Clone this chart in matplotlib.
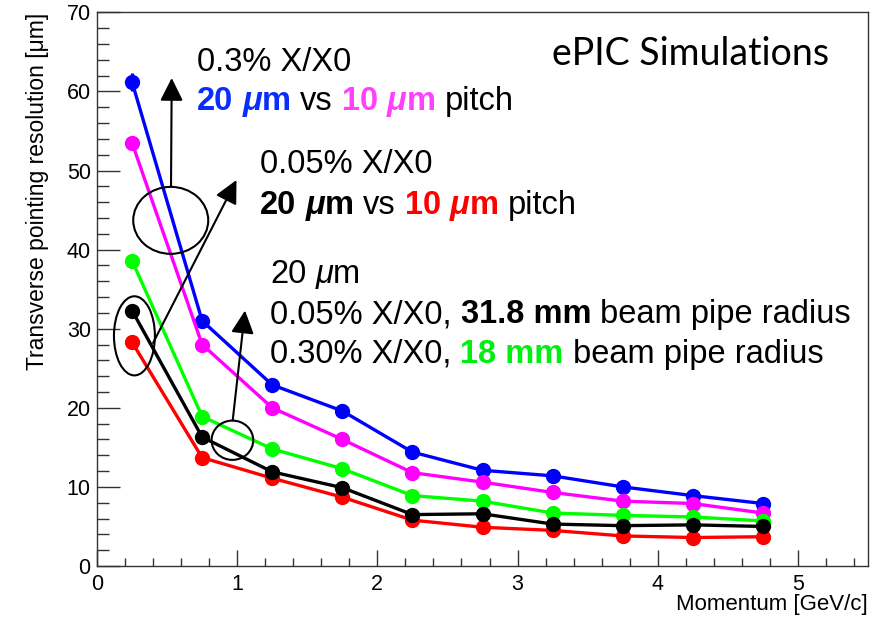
import matplotlib
matplotlib.use("Agg")
import matplotlib.pyplot as plt
from matplotlib.patches import Ellipse
from matplotlib.ticker import MultipleLocator

plt.rcParams["font.family"] = ["Liberation Sans", "DejaVu Sans"]

# momentum bins [GeV/c]
momentum = [0.25, 0.75, 1.25, 1.75, 2.25, 2.75, 3.25, 3.75, 4.25, 4.75]

# transverse pointing resolution [um]
res_blue = [61.2, 31.0, 22.9, 19.6, 14.4, 12.1, 11.4, 10.0, 8.9, 7.9]
res_magenta = [53.5, 28.0, 20.0, 16.0, 11.8, 10.6, 9.3, 8.2, 7.9, 6.7]
res_green = [38.6, 18.9, 14.8, 12.3, 8.9, 8.2, 6.7, 6.4, 6.2, 5.7]
res_red = [28.3, 13.7, 11.1, 8.7, 5.8, 4.9, 4.5, 3.8, 3.6, 3.7]
res_black = [32.3, 16.3, 11.9, 9.9, 6.5, 6.6, 5.3, 5.1, 5.2, 5.0]

err_blue = [1.1, 0.4, 0.3, 0.3, 0.2, 0.2, 0.2, 0.2, 0.2, 0.2]
err_magenta = [0.9, 0.4, 0.3, 0.3, 0.2, 0.2, 0.2, 0.2, 0.2, 0.2]
err_green = [0.5, 0.3, 0.2, 0.2, 0.2, 0.2, 0.1, 0.1, 0.1, 0.1]
err_red = [0.4, 0.2, 0.2, 0.2, 0.1, 0.1, 0.1, 0.1, 0.1, 0.1]
err_black = [0.4, 0.2, 0.2, 0.2, 0.1, 0.1, 0.1, 0.1, 0.1, 0.1]

x_ticks = [0, 1, 2, 3, 4, 5]
y_ticks = [0, 10, 20, 30, 40, 50, 60, 70]

BLUE = "#0000ff"
MAGENTA = "#ff00ff"
GREEN = "#00ff00"
RED = "#ff0000"
TXT_BLUE = "#0a2dff"
TXT_MAGENTA = "#ff40ff"
TXT_GREEN = "#00ee10"

TXT_SIZE = 23.5


def rich_line(ax, x, y, pieces, size=TXT_SIZE):
    # pieces: (text, color, bold, italic, space_before)
    prev = None
    for s, c, bold, italic, gap in pieces:
        kw = dict(color=c, fontsize=size,
                  fontweight="bold" if bold else "normal",
                  fontstyle="italic" if italic else "normal")
        if prev is None:
            prev = ax.text(x, y, s, va="baseline", ha="left", **kw)
        else:
            off = 0.278 * size if gap else 0
            prev = ax.annotate(s, xy=(1, 0), xycoords=prev,
                               xytext=(off, 0), textcoords="offset points",
                               va="bottom", ha="left", **kw)


fig = plt.figure(figsize=(8.85, 6.2), dpi=100)
ax = fig.add_axes([0.1096, 0.0871, 0.8712, 0.8930])

series = [
    (res_blue, err_blue, BLUE),
    (res_magenta, err_magenta, MAGENTA),
    (res_green, err_green, GREEN),
    (res_red, err_red, RED),
    (res_black, err_black, "black"),
]
for vals, errs, col in series:
    ax.errorbar(momentum, vals, yerr=errs, fmt="o-", color=col, lw=2.4,
                elinewidth=2.4, capsize=0, markersize=10, clip_on=False)

ax.set_xlim(0, 5.5)
ax.set_ylim(0, 70)
ax.set_xticks(x_ticks)
ax.set_xticklabels([str(v) for v in x_ticks])
ax.set_yticks(y_ticks)
ax.set_yticklabels([str(v) for v in y_ticks])
ax.xaxis.set_minor_locator(MultipleLocator(0.2))
ax.yaxis.set_minor_locator(MultipleLocator(2))
ax.tick_params(axis="both", which="both", direction="in", colors="#333333",
               labelcolor="black", labelsize=15.5, width=1.0)
ax.tick_params(axis="y", which="major", length=16.5, pad=4.5)
ax.tick_params(axis="y", which="minor", length=8.5)
ax.tick_params(axis="x", which="major", length=11.5, pad=6)
ax.tick_params(axis="x", which="minor", length=5.5)
for sp in ax.spines.values():
    sp.set_linewidth(1.0)
    sp.set_color("#333333")

ax.text(1.0, -0.070, "Momentum [GeV/c]", transform=ax.transAxes,
        ha="right", va="center", fontsize=16)
ax.text(-0.0772, 1.0, "Transverse pointing resolution [\u03bcm]",
        transform=ax.transAxes, rotation=90, ha="center", va="top",
        fontsize=16.5)

# circles and arrows
for (cx, cy, w, h) in [(0.526, 43.7, 0.535, 8.47),
                       (0.267, 29.1, 0.292, 10.0),
                       (0.966, 15.9, 0.297, 4.97)]:
    ax.add_patch(Ellipse((cx, cy), w, h, fill=False, lw=1.5, ec="black",
                         zorder=5))
for (x0, y0, x1, y1) in [(0.528, 48.0, 0.533, 61.7),
                         (0.400, 28.2, 0.995, 48.8),
                         (0.968, 18.4, 1.056, 32.3)]:
    ax.annotate("", xy=(x1, y1), xytext=(x0, y0),
                arrowprops=dict(arrowstyle="-|>,head_length=0.7,head_width=0.35",
                                mutation_scale=20, lw=1.5, color="black",
                                shrinkA=0, shrinkB=0), zorder=6)

k = "black"
rich_line(ax, 0.713, 62.6, [("0.3% X/X0", k, False, False, False)])
rich_line(ax, 0.713, 57.7, [
    ("20", TXT_BLUE, True, False, False),
    ("\u03bc", TXT_BLUE, True, True, True),
    ("m", TXT_BLUE, True, False, False),
    ("vs", k, False, False, True),
    ("10", TXT_MAGENTA, True, False, True),
    ("\u03bc", TXT_MAGENTA, True, True, True),
    ("m", TXT_MAGENTA, True, False, False),
    ("pitch", k, False, False, True),
])
rich_line(ax, 1.163, 49.7, [("0.05% X/X0", k, False, False, False)])
rich_line(ax, 1.163, 44.5, [
    ("20", k, True, False, False),
    ("\u03bc", k, True, True, True),
    ("m", k, True, False, False),
    ("vs", k, False, False, True),
    ("10", RED, True, False, True),
    ("\u03bc", RED, True, True, True),
    ("m", RED, True, False, False),
    ("pitch", k, False, False, True),
])
rich_line(ax, 1.234, 35.8, [
    ("20", k, False, False, False),
    ("\u03bc", k, False, True, True),
    ("m", k, False, False, False),
])
rich_line(ax, 1.234, 30.7, [
    ("0.05% X/X0,", k, False, False, False),
    ("31.8 mm", k, True, False, True),
    ("beam pipe radius", k, False, False, True),
])
rich_line(ax, 1.234, 25.7, [
    ("0.30% X/X0,", k, False, False, False),
    ("18 mm", TXT_GREEN, True, False, True),
    ("beam pipe radius", k, False, False, True),
])

ax.text(3.245, 63.3, "ePIC Simulations", family="Lato", fontsize=27,
        ha="left", va="baseline", color="black")

fig.savefig("out.png", dpi=100)
